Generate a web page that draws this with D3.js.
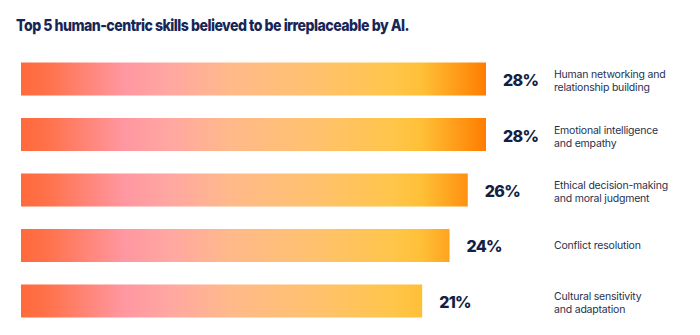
<!DOCTYPE html>
<html>
<head>
<meta charset="utf-8">
<script src="https://cdn.jsdelivr.net/npm/d3@7"></script>
<style>
  html, body { margin: 0; padding: 0; background: #ffffff; }
  svg { display: block; }
</style>
</head>
<body>
<div id="chart"></div>
<script>
// Survey results: share of respondents naming each skill
const skills = [
  ["Human networking and", "relationship building"],
  ["Emotional intelligence", "and empathy"],
  ["Ethical decision-making", "and moral judgment"],
  ["Conflict resolution"],
  ["Cultural sensitivity", "and adaptation"]
];
const shares = [28, 28, 26, 24, 21];
const shareLabels = ["28%", "28%", "26%", "24%", "21%"];
const titleText = "Top 5 human-centric skills believed to be irreplaceable by AI.";

const width = 700, height = 335;
const navy = "#182656";

const svg = d3.select("#chart").append("svg")
  .attr("width", width)
  .attr("height", height);

// One gradient spans the whole plotting area, so shorter bars stop earlier in it
const defs = svg.append("defs");
const grad = defs.append("linearGradient")
  .attr("id", "barGrad")
  .attr("gradientUnits", "userSpaceOnUse")
  .attr("x1", 21).attr("x2", 486)
  .attr("y1", 0).attr("y2", 0);
[
  [0.00, "#ff6a3c"],
  [0.05, "#ff7048"],
  [0.22, "#ff97a0"],
  [0.32, "#ffa7a2"],
  [0.45, "#ffb98a"],
  [0.62, "#ffc170"],
  [0.80, "#ffc54a"],
  [0.86, "#ffc038"],
  [0.93, "#ff9f1c"],
  [1.00, "#ff7d00"]
].forEach(([o, c]) => grad.append("stop").attr("offset", o).attr("stop-color", c));

const rows = d3.range(shares.length);

const y = d3.scaleBand()
  .domain(rows)
  .range([51.25, 328.75])
  .paddingInner(0.405)
  .paddingOuter(0.2027);

// Bars start from a truncated baseline
const x = d3.scaleLinear()
  .domain([-23, 28])
  .range([21, 486]);

svg.append("text")
  .attr("x", 16)
  .attr("y", 31)
  .attr("font-family", "Inter, Roboto, sans-serif")
  .attr("font-weight", 800)
  .attr("font-size", 16.5)
  .attr("letter-spacing", -0.6)
  .attr("fill", navy)
  .attr("textLength", 393)
  .attr("lengthAdjust", "spacingAndGlyphs")
  .text(titleText);

svg.append("g").selectAll("rect")
  .data(rows)
  .join("rect")
  .attr("x", x(x.domain()[0]))
  .attr("y", i => y(i))
  .attr("width", i => x(shares[i]) - x(x.domain()[0]))
  .attr("height", y.bandwidth())
  .attr("fill", "url(#barGrad)");

svg.append("g").selectAll("text")
  .data(rows)
  .join("text")
  .attr("x", i => x(shares[i]) + 17)
  .attr("y", i => y(i) + y.bandwidth() / 2 + 7)
  .attr("font-family", "Inter, Roboto, sans-serif")
  .attr("font-weight", 800)
  .attr("font-size", 16)
  .attr("letter-spacing", -0.7)
  .attr("fill", "#141f45")
  .text(i => shareLabels[i]);

const catG = svg.append("g").selectAll("text")
  .data(rows)
  .join("text")
  .attr("font-family", "Inter, Roboto, sans-serif")
  .attr("font-size", 10.5)
  .attr("letter-spacing", -0.2)
  .attr("fill", "#27314f")
  .attr("x", 554)
  .attr("y", i => {
    const cy = y(i) + y.bandwidth() / 2;
    return skills[i].length > 1 ? cy - 0.7 : cy + 3.5;
  });

catG.selectAll("tspan")
  .data(i => skills[i])
  .join("tspan")
  .attr("x", 554)
  .attr("dy", (d, k) => k === 0 ? 0 : 13)
  .text(d => d);
</script>
</body>
</html>
